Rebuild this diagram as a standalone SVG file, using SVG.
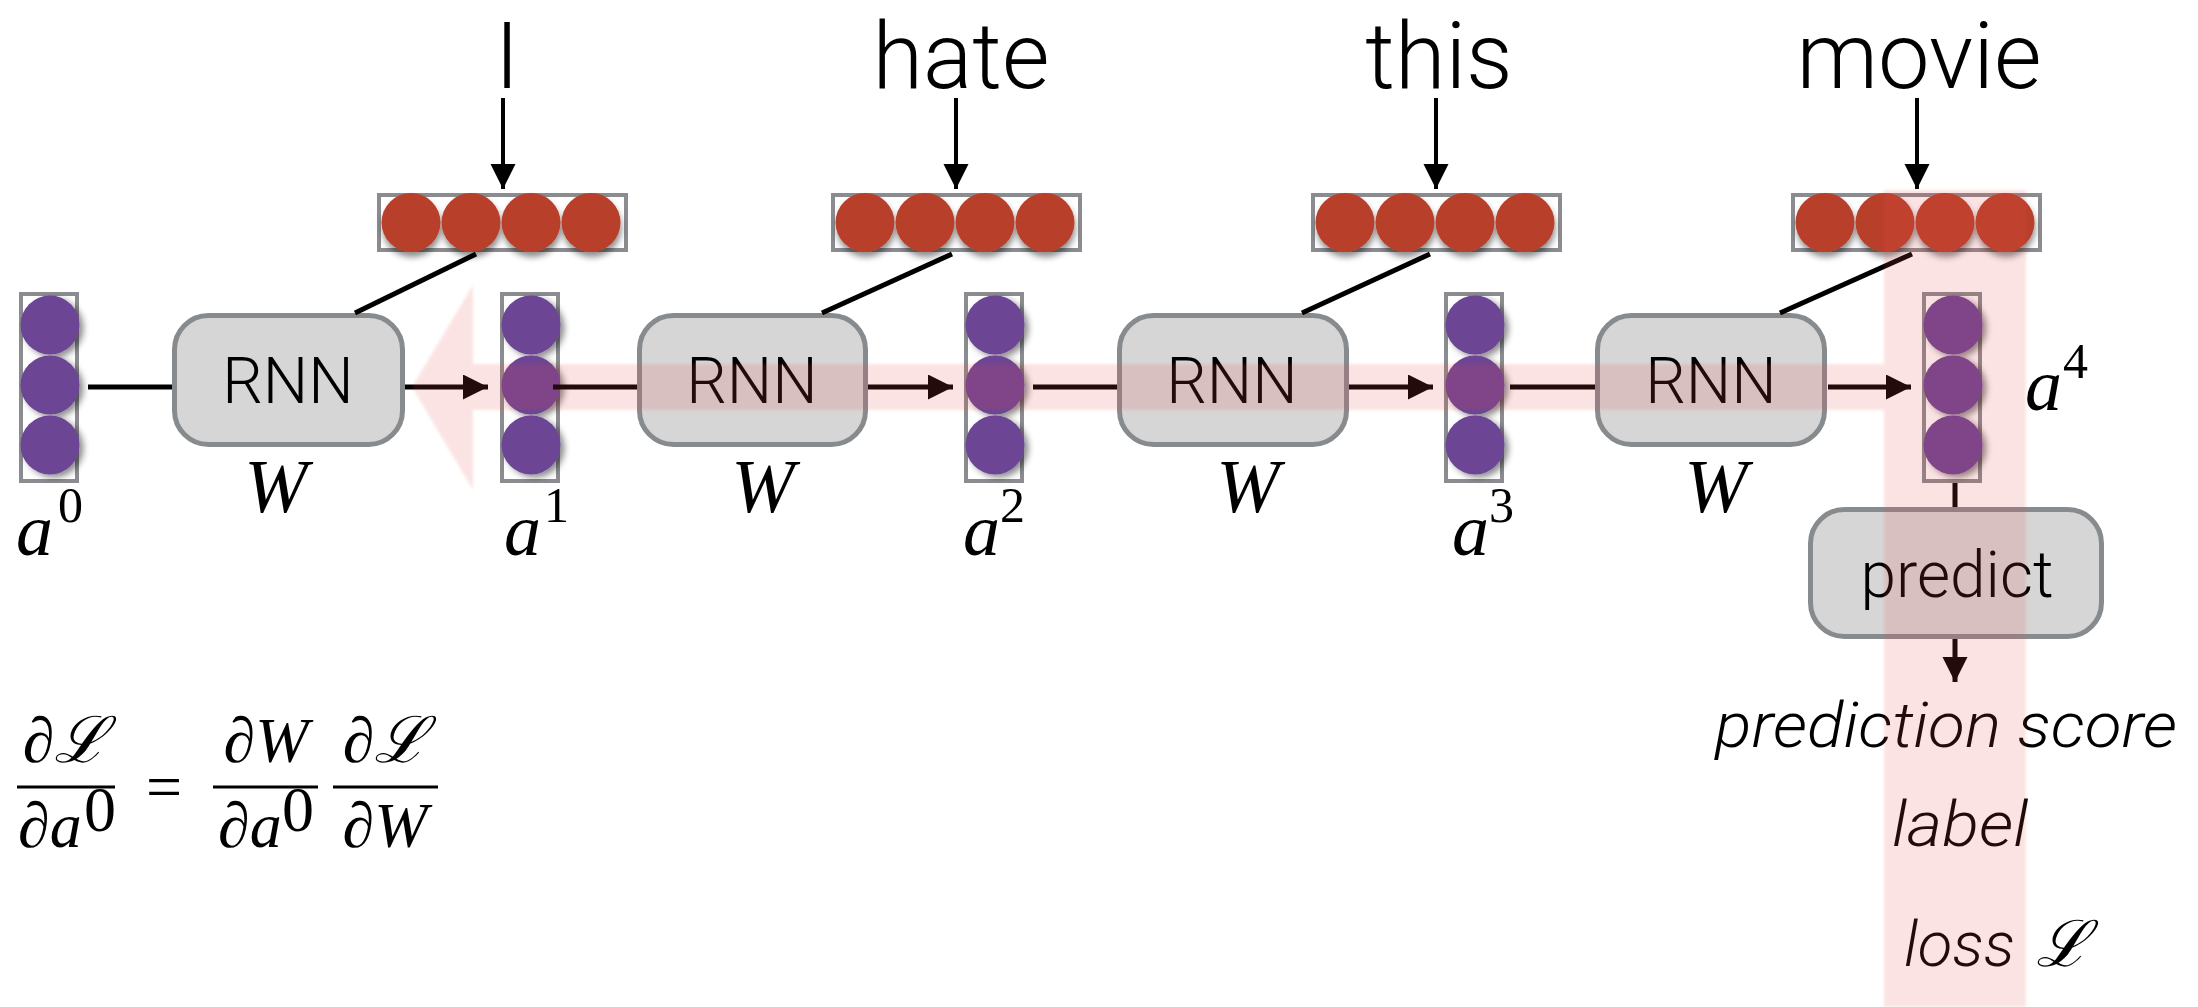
<svg xmlns="http://www.w3.org/2000/svg" width="2198" height="1007" viewBox="0 0 2198 1007">
<style>
.bg{fill:#fff}
.vec{fill:#fff;stroke:#8a8c8f;stroke-width:4}
.red{fill:#b8412c}
.pur{fill:#6c4494}
.box{fill:#d6d6d6;stroke:#878b8e;stroke-width:5}
.sans{font-family:Roboto,"Liberation Sans",sans-serif;font-weight:300;fill:#000}
.word{font-size:92px;text-anchor:middle}
.btxt{font-size:64px;text-anchor:middle}
.ital{font-style:italic;font-size:63px}
.math{font-family:"Liberation Serif","DejaVu Serif",serif;fill:#000;font-size:64px}
.it{font-style:italic}
.sup{font-size:50px}
.av{font-style:italic;font-size:74px}
.wv{font-style:italic;font-size:76px;text-anchor:middle}
.ln{stroke:#000;stroke-width:5;fill:none}
.ln4{stroke:#000;stroke-width:4;fill:none}
</style>
<defs>
<marker id="ah" markerUnits="userSpaceOnUse" markerWidth="26" markerHeight="26" refX="25" refY="12.5" orient="auto">
<path d="M0,0 L25,12.5 L0,25 z" fill="#000"/>
</marker>
<filter id="shR" x="-20%" y="-30%" width="140%" height="170%">
<feDropShadow dx="1" dy="5" stdDeviation="3" flood-color="#000" flood-opacity="0.45"/>
</filter>
<filter id="shP" x="-30%" y="-20%" width="170%" height="140%">
<feDropShadow dx="4" dy="3" stdDeviation="3" flood-color="#000" flood-opacity="0.45"/>
</filter>
<filter id="soft"><feGaussianBlur stdDeviation="1.5"/></filter>
<g id="redvec">
<rect class="vec" x="2" y="195" width="247" height="55"/>
<g filter="url(#shR)">
<circle class="red" cx="34" cy="222.5" r="29.5"/>
<circle class="red" cx="94" cy="222.5" r="29.5"/>
<circle class="red" cx="154" cy="222.5" r="29.5"/>
<circle class="red" cx="214" cy="222.5" r="29.5"/>
</g>
</g>
<g id="purvec">
<rect class="vec" x="2" y="294" width="56" height="187"/>
<g filter="url(#shP)">
<circle class="pur" cx="31" cy="325" r="29.5"/>
<circle class="pur" cx="31" cy="385" r="29.5"/>
<circle class="pur" cx="31" cy="445" r="29.5"/>
</g>
</g>
</defs>
<rect class="bg" x="0" y="0" width="2198" height="1007"/>

<!-- words -->
<g id="word-I"><text class="sans word" x="507" y="88">I</text></g>
<g id="word-hate"><text class="sans word" x="961" y="88">hate</text></g>
<g id="word-this"><text class="sans word" x="1439" y="88">this</text></g>
<g id="word-movie"><text class="sans word" x="1919" y="88">movie</text></g>

<!-- embeddings -->
<g id="emb1"><use href="#redvec" x="377"/></g>
<g id="emb2"><use href="#redvec" x="831"/></g>
<g id="emb3"><use href="#redvec" x="1311"/></g>
<g id="emb4"><use href="#redvec" x="1791"/></g>

<!-- hidden states -->
<g id="a0"><use href="#purvec" x="19"/>
<text class="math av" x="16" y="555">a</text>
<text class="math sup" x="58" y="522">0</text></g>
<g id="a1"><use href="#purvec" x="500"/>
<text class="math av" x="504" y="555">a</text>
<text class="math sup" x="544" y="522">1</text></g>
<g id="a2"><use href="#purvec" x="964"/>
<text class="math av" x="963" y="555">a</text>
<text class="math sup" x="1000" y="522">2</text></g>
<g id="a3"><use href="#purvec" x="1444"/>
<text class="math av" x="1452" y="555">a</text>
<text class="math sup" x="1489" y="522">3</text></g>
<g id="a4"><use href="#purvec" x="1922"/>
<text class="math av" x="2025" y="410">a</text>
<text class="math sup" x="2063" y="378">4</text></g>

<!-- RNN cells -->
<g id="rnn1"><rect class="box" x="174.5" y="315.5" width="228" height="129" rx="34"/>
<text class="sans btxt" x="288" y="403">RNN</text>
<text class="math wv" x="276" y="512">W</text></g>
<g id="rnn2"><rect class="box" x="639.5" y="315.5" width="226" height="129" rx="34"/>
<text class="sans btxt" x="752" y="403">RNN</text>
<text class="math wv" x="763" y="512">W</text></g>
<g id="rnn3"><rect class="box" x="1119.5" y="315.5" width="227" height="129" rx="34"/>
<text class="sans btxt" x="1232" y="403">RNN</text>
<text class="math wv" x="1248" y="512">W</text></g>
<g id="rnn4"><rect class="box" x="1597.5" y="315.5" width="227" height="129" rx="34"/>
<text class="sans btxt" x="1711" y="403">RNN</text>
<text class="math wv" x="1716" y="512">W</text></g>

<!-- predict -->
<g id="predict"><rect class="box" x="1810.5" y="509.5" width="291" height="127" rx="34"/>
<text class="sans btxt" x="1957" y="597">predict</text></g>

<!-- outputs -->
<g id="outputs">
<text class="sans ital" x="1715" y="747" textLength="462" lengthAdjust="spacingAndGlyphs">prediction score</text>
<text class="sans ital" x="1892" y="846" textLength="136" lengthAdjust="spacingAndGlyphs">label</text>
<text class="sans ital" x="1904" y="966" textLength="111" lengthAdjust="spacingAndGlyphs">loss</text>
<text class="math it" x="2036" y="966" font-size="68">ℒ</text>
</g>

<!-- formula -->
<g id="formula">
<text class="math" x="65" y="762" text-anchor="middle">∂<tspan class="it">ℒ</tspan></text>
<line x1="17" y1="787" x2="115" y2="787" stroke="#000" stroke-width="3"/>
<text class="math" x="18" y="847">∂<tspan class="it">a</tspan></text>
<text class="math" x="84" y="831" font-size="46">0</text>
<text class="math" x="164" y="808" text-anchor="middle" font-size="70">=</text>
<text class="math" x="266" y="762" text-anchor="middle">∂<tspan class="it">W</tspan></text>
<line x1="213" y1="787" x2="318" y2="787" stroke="#000" stroke-width="3"/>
<text class="math" x="218" y="847">∂<tspan class="it">a</tspan></text>
<text class="math" x="282" y="831" font-size="46">0</text>
<text class="math" x="385" y="762" text-anchor="middle">∂<tspan class="it">ℒ</tspan></text>
<line x1="333" y1="787" x2="438" y2="787" stroke="#000" stroke-width="3"/>
<text class="math" x="385" y="847" text-anchor="middle">∂<tspan class="it">W</tspan></text>
</g>

<!-- connectors -->
<g id="connectors">
<line class="ln4" x1="503" y1="98" x2="503" y2="189" marker-end="url(#ah)"/>
<line class="ln4" x1="956" y1="98" x2="956" y2="189" marker-end="url(#ah)"/>
<line class="ln4" x1="1436" y1="98" x2="1436" y2="189" marker-end="url(#ah)"/>
<line class="ln4" x1="1917" y1="98" x2="1917" y2="189" marker-end="url(#ah)"/>
<line class="ln" x1="476" y1="254" x2="355" y2="313"/>
<line class="ln" x1="952" y1="254" x2="822" y2="313"/>
<line class="ln" x1="1430" y1="254" x2="1302" y2="313"/>
<line class="ln" x1="1912" y1="254" x2="1780" y2="313"/>
<line class="ln" x1="88" y1="387" x2="172" y2="387"/>
<line class="ln" x1="405" y1="387" x2="488" y2="387" marker-end="url(#ah)"/>
<line class="ln" x1="553" y1="387" x2="637" y2="387"/>
<line class="ln" x1="868" y1="387" x2="953" y2="387" marker-end="url(#ah)"/>
<line class="ln" x1="1033" y1="387" x2="1117" y2="387"/>
<line class="ln" x1="1349" y1="387" x2="1433" y2="387" marker-end="url(#ah)"/>
<line class="ln" x1="1510" y1="387" x2="1595" y2="387"/>
<line class="ln" x1="1828" y1="387" x2="1911" y2="387" marker-end="url(#ah)"/>
<line class="ln" x1="1955" y1="483" x2="1955" y2="507"/>
<line class="ln" x1="1955" y1="639" x2="1955" y2="682" marker-end="url(#ah)"/>
</g>

<!-- backprop highlight -->
<g id="highlight" opacity="0.15" filter="url(#soft)">
<path d="M412,387 L473,285 L473,364 L1884,364 L1884,190 L2026,190 L2026,1007 L1884,1007 L1884,410 L473,410 L473,490 Z" fill="#eb4a4a"/>
</g>
</svg>
